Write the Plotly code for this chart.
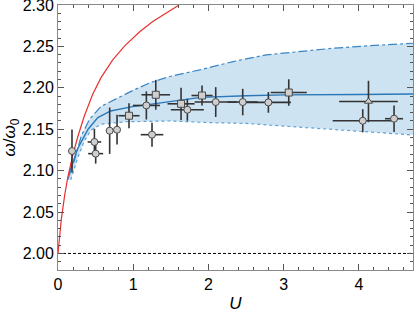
import plotly.graph_objects as go

# Theory curves
red_u = [0, 0.02, 0.045, 0.09, 0.13, 0.195, 0.26, 0.35, 0.46, 0.57, 0.73, 0.89, 1.09, 1.26, 1.44, 1.61]
red_w = [2.000, 2.020, 2.042, 2.071, 2.092, 2.118, 2.140, 2.166, 2.192, 2.212, 2.234, 2.251, 2.268, 2.280, 2.290, 2.300]

up_u = [0.13, 0.22, 0.31, 0.42, 0.57, 0.8, 1.0, 1.22, 1.5, 1.9, 2.33, 2.77, 3.2, 3.66, 4.1, 4.72]
up_w = [2.089, 2.113, 2.142, 2.162, 2.1775, 2.188, 2.197, 2.206, 2.214, 2.222, 2.2317, 2.2398, 2.2438, 2.2478, 2.2506, 2.2538]

lo_u = [0.17, 0.26, 0.35, 0.44, 0.57, 0.9, 1.5, 2.0, 2.5, 3.0, 3.5, 4.0, 4.72]
lo_w = [2.089, 2.115, 2.136, 2.149, 2.156, 2.159, 2.160, 2.158, 2.157, 2.154, 2.151, 2.148, 2.143]

mid_u = [0.15, 0.26, 0.40, 0.53, 0.70, 0.97, 1.22, 1.9, 2.5, 3.0, 4.0, 4.72]
mid_w = [2.097, 2.1265, 2.150, 2.164, 2.172, 2.177, 2.180, 2.1885, 2.1905, 2.1915, 2.192, 2.1925]

# Experimental points
circ_u = [0.186, 0.484, 0.501, 0.687, 0.785, 1.175, 1.25, 1.72, 2.097, 2.456, 2.797, 4.052, 4.468]
circ_w = [2.1237, 2.1346, 2.1205, 2.1482, 2.1494, 2.1787, 2.1434, 2.1735, 2.1828, 2.1828, 2.1824, 2.1602, 2.1627]
circ_du = [0.0, 0.09, 0.10, 0.05, 0.04, 0.18, 0.15, 0.22, 0.28, 0.2, 0.3, 0.40, 0.12]
circ_dw = [0.026, 0.016, 0.012, 0.028, 0.018, 0.017, 0.0145, 0.0133, 0.018, 0.016, 0.0125, 0.014, 0.016]

sq_u = [0.944, 1.30, 1.636, 1.915, 3.068]
sq_w = [2.1663, 2.1916, 2.1807, 2.1907, 2.1943]
sq_du = [0.14, 0.19, 0.18, 0.14, 0.24]
sq_dw = [0.015, 0.018, 0.0195, 0.012, 0.016]

tri_u = [4.128]
tri_w = [2.1835]
tri_du = [0.39]
tri_dw = [0.025]

x_range = [0, 4.72]
y_range = [1.98, 2.30]
base_u = [0, 4.72]
base_w = [2.0, 2.0]

fig = go.Figure()

# band fill
fig.add_trace(go.Scatter(x=up_u + lo_u[::-1], y=up_w + lo_w[::-1], fill='toself',
                         fillcolor='rgba(190,218,238,0.75)', line=dict(width=0),
                         mode='lines', hoverinfo='skip', showlegend=False))
fig.add_trace(go.Scatter(x=up_u, y=up_w, mode='lines',
                         line=dict(color='#3a86c4', width=1.2, dash='dashdot'), showlegend=False))
fig.add_trace(go.Scatter(x=lo_u, y=lo_w, mode='lines',
                         line=dict(color='#5ea3d8', width=1.2, dash='dot'), showlegend=False))
fig.add_trace(go.Scatter(x=mid_u, y=mid_w, mode='lines',
                         line=dict(color='#2a78b8', width=1.4), showlegend=False))
fig.add_trace(go.Scatter(x=red_u, y=red_w, mode='lines',
                         line=dict(color='#e8312f', width=1.2), showlegend=False))
fig.add_trace(go.Scatter(x=base_u, y=base_w, mode='lines',
                         line=dict(color='black', width=1, dash='3px,2px'), showlegend=False))

def pts(u, w, du, dw, sym):
    return go.Scatter(x=u, y=w, mode='markers',
                      marker=dict(symbol=sym, size=7, color='#cfcfcf', line=dict(color='#4a4a4a', width=1)),
                      error_x=dict(type='data', array=du, color='#333333', thickness=1.6, width=0),
                      error_y=dict(type='data', array=dw, color='#333333', thickness=1.6, width=0),
                      showlegend=False)

fig.add_trace(pts(circ_u, circ_w, circ_du, circ_dw, 'circle'))
fig.add_trace(pts(sq_u, sq_w, sq_du, sq_dw, 'square'))
fig.add_trace(pts(tri_u, tri_w, tri_du, tri_dw, 'triangle-up'))

font_family = 'Liberation Sans, Arial'
axis_common = dict(showgrid=False, zeroline=False, showline=True, linecolor='#888888', linewidth=1,
                   mirror='ticks', ticks='inside', tickcolor='#555555', ticklen=6, tickwidth=1,
                   automargin=False, ticklabeloverflow='allow',
                   tickfont=dict(family=font_family, size=16, color='black'))

fig.update_xaxes(range=x_range, dtick=1, tick0=0,
                 minor=dict(dtick=0.2, ticks='inside', ticklen=3, tickcolor='#555555'),
                 title=dict(text='<i>U</i>', font=dict(family=font_family, size=17, color='black'), standoff=6),
                 **axis_common)
fig.update_yaxes(range=y_range, dtick=0.05, tick0=2.0, tickformat='.2f',
                 minor=dict(dtick=0.01, ticks='inside', ticklen=3, tickcolor='#555555'),
                 title=dict(text='<i>ω</i>/<i>ω</i><sub>0</sub>', font=dict(family=font_family, size=17, color='black'), standoff=4),
                 **axis_common)

fig.update_layout(width=416, height=313, margin=dict(l=58, r=3, t=5, b=43),
                  plot_bgcolor='white', paper_bgcolor='white')

fig.write_html('out.html', config={'displayModeBar': False},
               post_script="document.body.style.margin='0px';")
